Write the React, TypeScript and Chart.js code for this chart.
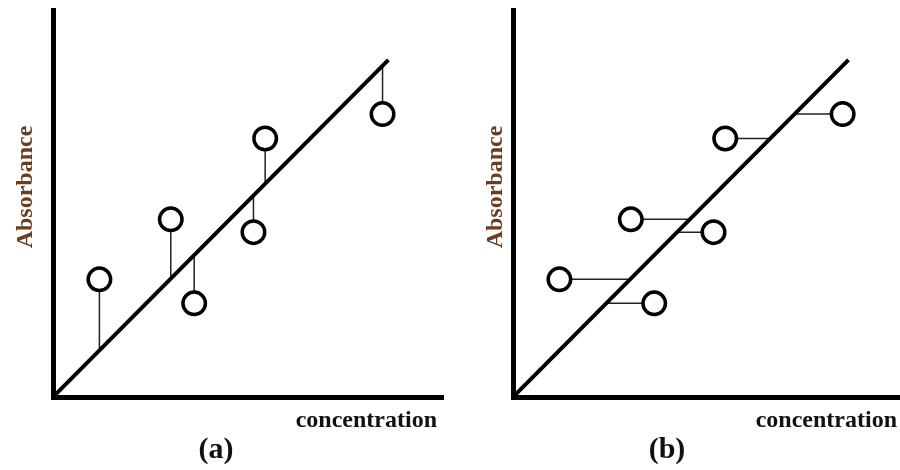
import React, { useEffect, useRef } from "react";
import { Chart, registerables } from "chart.js";

Chart.register(...registerables);

// ---- data ----
const concentration = [1.19, 3.02, 3.62, 5.14, 5.44, 8.45];
const absorbance = [3.04, 4.59, 2.42, 4.26, 6.68, 7.31];
const fitSlope = 1.013;
const fitRange = [0, 8.6];
const panelLabels = ["(a)", "(b)"];
const residualModes = ["vertical", "horizontal"];
const xTitle = "concentration";
const yTitle = "Absorbance";

// ---- layout per panel ----
const panelLayouts = [
  {
    pad: { left: 53, right: 7, top: 10, bottom: 73 },
    xMax: 10,
    yTitleBaseX: 31.5,
    xTitleRight: 437,
    labelX: 216,
  },
  {
    pad: { left: 63, right: 0, top: 10, bottom: 73 },
    xMax: 9.92,
    yTitleBaseX: 51.5,
    xTitleRight: 447,
    labelX: 217,
  },
];

const SERIF = '"Liberation Serif", "Times New Roman", serif';

const textPlugin = {
  id: "panelText",
  afterDraw(chart: any, _args: any, opts: any) {
    const ctx = chart.ctx as CanvasRenderingContext2D;
    ctx.save();
    ctx.font = `bold 24px ${SERIF}`;
    ctx.fillStyle = "#6b3d1f";
    ctx.textAlign = "center";
    ctx.textBaseline = "alphabetic";
    ctx.translate(opts.yTitleBaseX, 187);
    ctx.rotate(-Math.PI / 2);
    ctx.fillText(opts.yTitle, 0, 0);
    ctx.restore();

    ctx.save();
    ctx.font = `bold 24px ${SERIF}`;
    ctx.fillStyle = "#111";
    ctx.textAlign = "right";
    ctx.textBaseline = "alphabetic";
    ctx.fillText(opts.xTitle, opts.xTitleRight, 427);
    ctx.restore();

    ctx.save();
    ctx.font = `bold 30px ${SERIF}`;
    ctx.fillStyle = "#111";
    ctx.textAlign = "center";
    ctx.textBaseline = "alphabetic";
    ctx.fillText(opts.label, opts.labelX, 458);
    ctx.restore();
  },
};

function makeConfig(idx: number): any {
  const lay = panelLayouts[idx];
  const mode = residualModes[idx];
  const points = concentration.map((x, i) => ({ x, y: absorbance[i] }));
  const fit = fitRange.map((x) => ({ x, y: fitSlope * x }));
  const residuals = concentration.map((x, i) => {
    const y = absorbance[i];
    const data =
      mode === "vertical"
        ? [
            { x, y },
            { x, y: fitSlope * x },
          ]
        : [
            { x, y },
            { x: y / fitSlope, y },
          ];
    return {
      type: "line",
      data,
      borderColor: "#222",
      borderWidth: 1.5,
      pointRadius: 0,
      fill: false,
      order: 2,
    };
  });

  return {
    type: "scatter",
    data: {
      datasets: [
        {
          type: "scatter",
          data: points,
          pointRadius: 11.25,
          pointBorderWidth: 3.5,
          borderWidth: 3.5,
          borderColor: "#000",
          backgroundColor: "#fff",
          pointBackgroundColor: "#fff",
          pointBorderColor: "#000",
          order: 0,
          clip: false,
        },
        {
          type: "line",
          data: fit,
          borderColor: "#000",
          borderWidth: 4,
          pointRadius: 0,
          fill: false,
          order: 1,
        },
        ...residuals,
      ],
    },
    options: {
      animation: false,
      responsive: false,
      events: [],
      layout: { padding: lay.pad, autoPadding: false },
      scales: {
        x: {
          type: "linear",
          min: 0,
          max: lay.xMax,
          ticks: { display: false },
          grid: { display: false, drawTicks: false },
          border: { display: true, width: 5, color: "#000" },
        },
        y: {
          type: "linear",
          min: 0,
          max: 10,
          ticks: { display: false },
          grid: { display: false, drawTicks: false },
          border: { display: true, width: 5, color: "#000" },
        },
      },
      plugins: {
        legend: { display: false },
        tooltip: { enabled: false },
        panelText: {
          yTitle,
          xTitle,
          label: panelLabels[idx],
          yTitleBaseX: lay.yTitleBaseX,
          xTitleRight: lay.xTitleRight,
          labelX: lay.labelX,
        },
      },
    },
    plugins: [textPlugin],
  };
}

function Panel({ idx }: { idx: number }) {
  const ref = useRef<HTMLCanvasElement | null>(null);
  useEffect(() => {
    if (!ref.current) return;
    const chart = new Chart(ref.current, makeConfig(idx));
    return () => chart.destroy();
  }, [idx]);
  return (
    <canvas
      ref={ref}
      width={450}
      height={470}
      style={{ position: "absolute", left: idx * 450, top: 0, width: 450, height: 470 }}
    />
  );
}

export default function App() {
  return (
    <div
      style={{
        position: "absolute",
        left: 0,
        top: 0,
        width: 900,
        height: 470,
        background: "#fff",
        overflow: "hidden",
      }}
    >
      <Panel idx={0} />
      <Panel idx={1} />
    </div>
  );
}
